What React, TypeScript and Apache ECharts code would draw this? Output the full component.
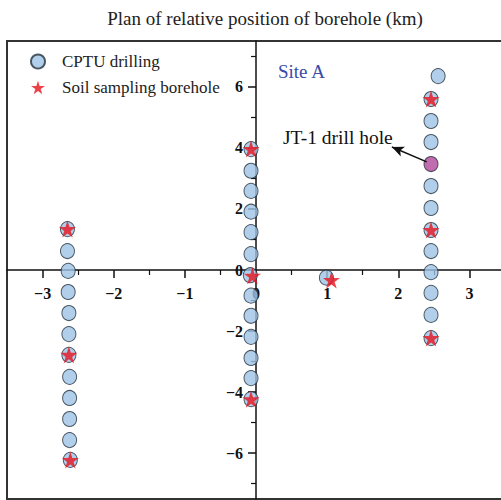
import React, { useEffect, useRef } from "react";
import * as echarts from "echarts";

// CPTU drilling holes (km), read from the plan
const cptuLeftColumn: [number, number][] = [
  [-2.65, 1.34], [-2.65, 0.62], [-2.64, -0.03], [-2.64, -0.72], [-2.63, -1.41], [-2.63, -2.1],
  [-2.63, -2.78], [-2.62, -3.5], [-2.62, -4.19], [-2.62, -4.88], [-2.62, -5.57], [-2.61, -6.22],
];
const cptuMiddleColumn: [number, number][] = [
  [-0.07, 3.96], [-0.07, 3.25], [-0.07, 2.59], [-0.07, 1.91], [-0.07, 1.24], [-0.07, 0.52],
  [-0.08, -0.17], [-0.07, -0.84], [-0.07, -1.5], [-0.07, -2.19], [-0.07, -2.88], [-0.07, -3.54], [-0.07, -4.23],
];
const cptuRightColumn: [number, number][] = [
  [2.56, 6.35], [2.46, 5.6], [2.46, 4.88], [2.46, 4.19], [2.46, 2.75], [2.46, 2.03],
  [2.46, 1.31], [2.46, 0.62], [2.46, -0.07], [2.46, -0.75], [2.46, -1.47], [2.46, -2.23],
];
const cptuOther: [number, number][] = [[0.99, -0.25]];
const jt1Hole: [number, number] = [2.46, 3.47];

// Soil sampling boreholes
const samplingBoreholes: [number, number][] = [
  [-2.65, 1.34], [-2.63, -2.78], [-2.61, -6.22],
  [-0.07, 3.96], [-0.05, -0.19], [-0.07, -4.23],
  [1.06, -0.33],
  [2.46, 5.6], [2.46, 1.31], [2.46, -2.23],
];

// Axis ticks
const xMajorTicks = [-3, -2, -1, 0, 1, 2, 3];
const xMinorTicks = [-2.5, -1.5, -0.5, 0.5, 1.5, 2.5];
const yMajorTicks = [-6, -4, -2, 0, 2, 4, 6];
const yMinorTicks = [-7, -5, -3, -1, 1, 3, 5, 7];

// Annotation anchors (data coords)
const arrowTail: [number, number] = [2.4, 3.54];
const arrowHead: [number, number] = [1.91, 4.03];

const SERIF = "Liberation Serif";
const STAR =
  "path://M50,0 L61.2,34.5 L97.6,34.5 L68.2,55.9 L79.4,90.5 L50,69.1 L20.6,90.5 L31.8,55.9 L2.4,34.5 L38.8,34.5 Z";
const fmt = (v: number) => String(v).replace("-", "\u2212");

export default function App() {
  const ref = useRef<HTMLDivElement>(null);
  useEffect(() => {
    if (!ref.current) return;
    const chart = echarts.init(ref.current, null, { renderer: "svg" });
    const labelStyle = {
      fontFamily: SERIF,
      fontWeight: "bold" as const,
      fontSize: 16,
      color: "#111",
    };
    const makeOption = (xOff: number, yOff: number): any => ({
      animation: false,
      grid: {
        show: true,
        left: 7,
        top: 41,
        right: -4,
        bottom: 1,
        containLabel: false,
        outerBoundsMode: "none",
        borderColor: "#333",
        borderWidth: 2,
        backgroundColor: "transparent",
      },
      legend: {
        orient: "vertical",
        left: 30,
        top: 53,
        padding: 0,
        itemWidth: 14,
        itemHeight: 15,
        itemGap: 9,
        data: ["CPTU drilling", "Soil sampling borehole"],
        textStyle: {
          fontFamily: SERIF,
          fontSize: 17,
          color: "#222",
          padding: [0, 0, 0, 12],
        },
      },
      xAxis: [
        {
          type: "value",
          position: "bottom",
          offset: xOff,
          min: -3.5,
          max: 3.5,
          splitLine: { show: false },
          axisLine: { onZero: false, lineStyle: { color: "#111", width: 1.5 } },
          axisTick: { show: true, length: 8, customValues: xMajorTicks, lineStyle: { color: "#111", width: 1.5 } },
          axisLabel: { ...labelStyle, margin: 15, customValues: xMajorTicks, formatter: fmt },
        },
        {
          type: "value",
          position: "bottom",
          offset: xOff,
          min: -3.5,
          max: 3.5,
          splitLine: { show: false },
          axisLine: { show: false, onZero: false },
          axisTick: { show: true, length: 5, customValues: xMinorTicks, lineStyle: { color: "#111", width: 1.2 } },
          axisLabel: { show: false },
        },
      ],
      yAxis: [
        {
          type: "value",
          position: "left",
          offset: yOff,
          min: -7.5,
          max: 7.5,
          splitLine: { show: false },
          axisLine: { onZero: false, lineStyle: { color: "#111", width: 1.5 } },
          axisTick: { show: true, length: 8, customValues: yMajorTicks, lineStyle: { color: "#111", width: 1.5 } },
          axisLabel: { ...labelStyle, margin: 13, customValues: yMajorTicks, formatter: fmt },
        },
        {
          type: "value",
          position: "left",
          offset: yOff,
          min: -7.5,
          max: 7.5,
          splitLine: { show: false },
          axisLine: { show: false, onZero: false },
          axisTick: { show: true, length: 5, customValues: yMinorTicks, lineStyle: { color: "#111", width: 1.2 } },
          axisLabel: { show: false },
        },
      ],
      series: [
        {
          name: "CPTU drilling",
          type: "scatter",
          symbol: "circle",
          symbolSize: [14, 15],
          itemStyle: { color: "#9dc3e6", borderColor: "#26323d", borderWidth: 1 },
          data: [
            ...cptuLeftColumn,
            ...cptuMiddleColumn,
            ...cptuRightColumn,
            ...cptuOther,
            { value: jt1Hole, itemStyle: { color: "#b2479a" } },
          ],
          markLine: {
            silent: true,
            symbol: ["none", "arrow"],
            symbolSize: [8, 12],
            label: { show: false },
            lineStyle: { color: "#111", width: 1.5, type: "solid" },
            data: [[{ coord: arrowTail }, { coord: arrowHead }]],
          },
          z: 2,
        },
        {
          name: "Soil sampling borehole",
          type: "scatter",
          symbol: STAR,
          symbolSize: 17,
          itemStyle: { color: "#e8111b" },
          data: samplingBoreholes,
          z: 3,
        },
      ],
      graphic: [
        {
          type: "text",
          x: 265,
          y: 18,
          style: {
            text: "Plan of relative position of borehole (km)",
            font: `19px ${SERIF}`,
            fill: "#222",
            align: "center",
            verticalAlign: "middle",
          },
        },
        {
          type: "text",
          x: 278,
          y: 71,
          style: {
            text: "Site A",
            font: `19px ${SERIF}`,
            fill: "#3a4aa6",
            align: "left",
            verticalAlign: "middle",
          },
        },
        {
          type: "text",
          x: 283,
          y: 137,
          style: {
            text: "JT-1 drill hole",
            font: `19.5px ${SERIF}`,
            fill: "#111",
            align: "left",
            verticalAlign: "middle",
          },
        },
      ],
    });
    chart.setOption(makeOption(0, 0));
    // move the axes (with their labels) onto the origin, as in the plan
    const origin = chart.convertToPixel({ gridIndex: 0 }, [0, 0]) as number[];
    const rect = (chart as any).getModel().getComponent("grid", 0).coordinateSystem.getRect();
    const xOff = -(rect.y + rect.height - origin[1]);
    const yOff = -(origin[0] - rect.x);
    chart.setOption(makeOption(xOff, yOff));
    return () => chart.dispose();
  }, []);
  return (
    <div
      ref={ref}
      style={{ position: "fixed", left: 0, top: 0, width: 501, height: 500, background: "#fff" }}
    />
  );
}
